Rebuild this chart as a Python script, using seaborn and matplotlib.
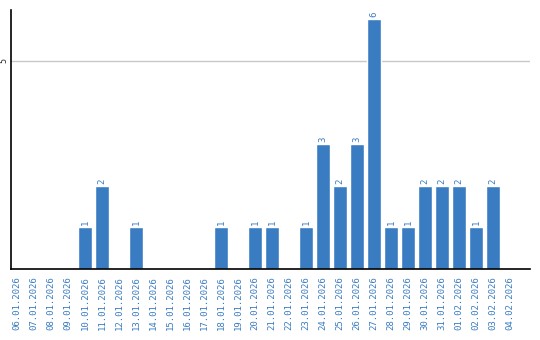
import matplotlib
matplotlib.use("Agg")
import matplotlib.pyplot as plt
import seaborn as sns
import pandas as pd

dates = ["06.01.2026", "07.01.2026", "08.01.2026", "09.01.2026", "10.01.2026",
         "11.01.2026", "12.01.2026", "13.01.2026", "14.01.2026", "15.01.2026",
         "16.01.2026", "17.01.2026", "18.01.2026", "19.01.2026", "20.01.2026",
         "21.01.2026", "22.01.2026", "23.01.2026", "24.01.2026", "25.01.2026",
         "26.01.2026", "27.01.2026", "28.01.2026", "29.01.2026", "30.01.2026",
         "31.01.2026", "01.02.2026", "02.02.2026", "03.02.2026", "04.02.2026"]
counts = [0, 0, 0, 0, 1, 2, 0, 1, 0, 0, 0, 0, 1, 0, 1, 1, 0, 1, 3, 2, 3, 6,
          1, 1, 2, 2, 2, 1, 2, 0]

df = pd.DataFrame({"date": dates, "count": counts})
blue = "#3a7cc2"

sns.set_style("white")
fig = plt.figure(figsize=(5.4, 3.4), dpi=100)
ax = fig.add_axes([11/540, 71/340, 519/540, 259/340])
sns.barplot(data=df, x="date", y="count", color=blue, width=0.82,
            saturation=1, ax=ax, order=dates)

ax.set_xlim(-0.35, 30.18)
ax.set_ylim(0, 6.22)
ax.set_yticks([5])
ax.set_yticklabels(["5"], rotation=90, va="center", fontsize=6,
                   family="DejaVu Sans Mono")
ax.yaxis.grid(True, color="#c8c8c8", linewidth=1)
ax.set_axisbelow(True)
ax.tick_params(axis="both", length=0, pad=2)
ax.set_xticks(range(len(dates)))
ax.set_xticklabels(dates, rotation=90, fontsize=6.5, color=blue,
                   family="DejaVu Sans Mono")
ax.tick_params(axis="x", pad=5)
ax.set_xlabel("")
ax.set_ylabel("")
for s in ["top", "right"]:
    ax.spines[s].set_visible(False)
for s in ["left", "bottom"]:
    ax.spines[s].set_color("black")
    ax.spines[s].set_linewidth(1.2)

for i, v in enumerate(counts):
    if v > 0:
        ax.text(i, v + 0.05, str(v), rotation=90, ha="center", va="bottom",
                fontsize=6.5, color=blue, family="DejaVu Sans Mono")

fig.savefig("out.png", dpi=100)
